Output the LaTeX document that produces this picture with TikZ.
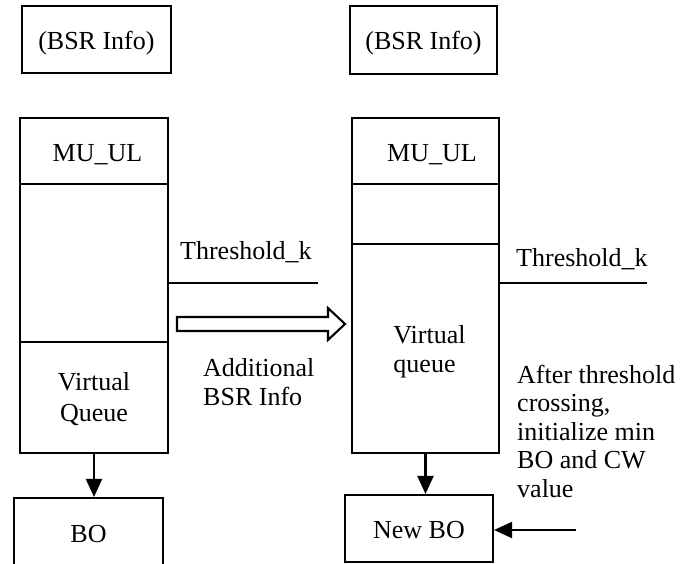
\documentclass[tikz,border=0pt]{standalone}
\usepackage{fontspec}
\setmainfont{Liberation Serif}
\usetikzlibrary{arrows.meta}
\newcommand\mlines[2]{\begin{tabular}[t]{#1}#2\end{tabular}}
\begin{document}
\begin{tikzpicture}[x=1pt,y=-1pt,
  lw/.style={line width=2.1pt},
  boxnode/.style={draw, line width=2.1pt, inner sep=0pt, anchor=center, text depth=0pt},
  txt/.style={inner sep=0pt},
  arr/.style={line width=2.1pt, -{Triangle[length=18pt,width=16pt]}},
  every node/.style={font=\fontsize{26}{29}\selectfont}]
\useasboundingbox (0,0) rectangle (696,564);
\fill[white] (0,0) rectangle (696,564);
\clip (0,0) rectangle (696,564);
% top boxes
\node[boxnode, minimum width=149pt, minimum height=67pt, text height=21pt] (bsrL) at (96.4,39.5) {(BSR Info)};
\node[boxnode, minimum width=147pt, minimum height=68pt, text height=20pt] (bsrR) at (423.5,40) {(BSR Info)};
% left stack
\node[boxnode, minimum width=148pt, minimum height=66pt, text height=22pt] (muL) at (94,151) {\hspace{7pt}MU\_UL};
\node[boxnode, minimum width=148pt, minimum height=158pt] (midL) at (94,263) {};
\node[boxnode, minimum width=148pt, minimum height=111pt, text height=0pt, text depth=15pt,
  font=\fontsize{26}{31.5}\selectfont] (vqL) at (94,397.5) {\mlines{@{}c@{}}{Virtual\\Queue}};
% right stack
\node[boxnode, minimum width=147pt, minimum height=66pt, text height=22pt] (muR) at (425.5,151) {\hspace{13pt}MU\_UL};
\node[boxnode, minimum width=147pt, minimum height=60pt] (midR) at (425.5,214) {};
\node[boxnode, minimum width=147pt, minimum height=209pt, text height=0pt, text depth=11pt,
  font=\fontsize{26}{29.5}\selectfont] (vqR) at (425.5,348.5) {\mlines{@{\hspace{8pt}}l@{}}{Virtual\\queue}};
% bottom boxes
\node[boxnode, minimum width=149pt, minimum height=86pt, text height=2pt] (bo) at (88.5,541) {BO};
\node[boxnode, minimum width=148pt, minimum height=67pt, text height=19pt] (newbo) at (419,528.5) {New BO};
% texts
\node[txt, anchor=base west] (thL) at (180,259) {Threshold\_k};
\node[txt, anchor=base west] (thR) at (516,266) {Threshold\_k};
\node[txt, anchor=base west, font=\fontsize{26}{29}\selectfont] (addinfo) at (203,376)
  {\mlines{@{}l@{}}{Additional\\BSR Info}};
\node[txt, anchor=base west, font=\fontsize{26}{28.5}\selectfont] (after) at (517,383)
  {\mlines{@{}l@{}}{After threshold\\crossing,\\initialize min\\BO and CW\\value}};
% threshold lines
\coordinate (thLend) at (318,283);
\coordinate (thRend) at (647,283);
\draw[lw] (thLend -| midL.east) -- (thLend);
\draw[lw] (thRend -| vqR.east) -- (thRend);
% hollow arrow
\draw[lw] (177,317) -- (328,317) -- (328,308) -- (345,324) -- (328,340) -- (328,331) -- (177,331) -- cycle;
% arrows
\draw[arr] (vqL.south) -- (vqL.south |- bo.north);
\draw[arr] (vqR.south) -- (vqR.south |- newbo.north);
\coordinate (nbin) at (576,530);
\draw[arr] (nbin) -- (nbin -| newbo.east);
\end{tikzpicture}
\end{document}
